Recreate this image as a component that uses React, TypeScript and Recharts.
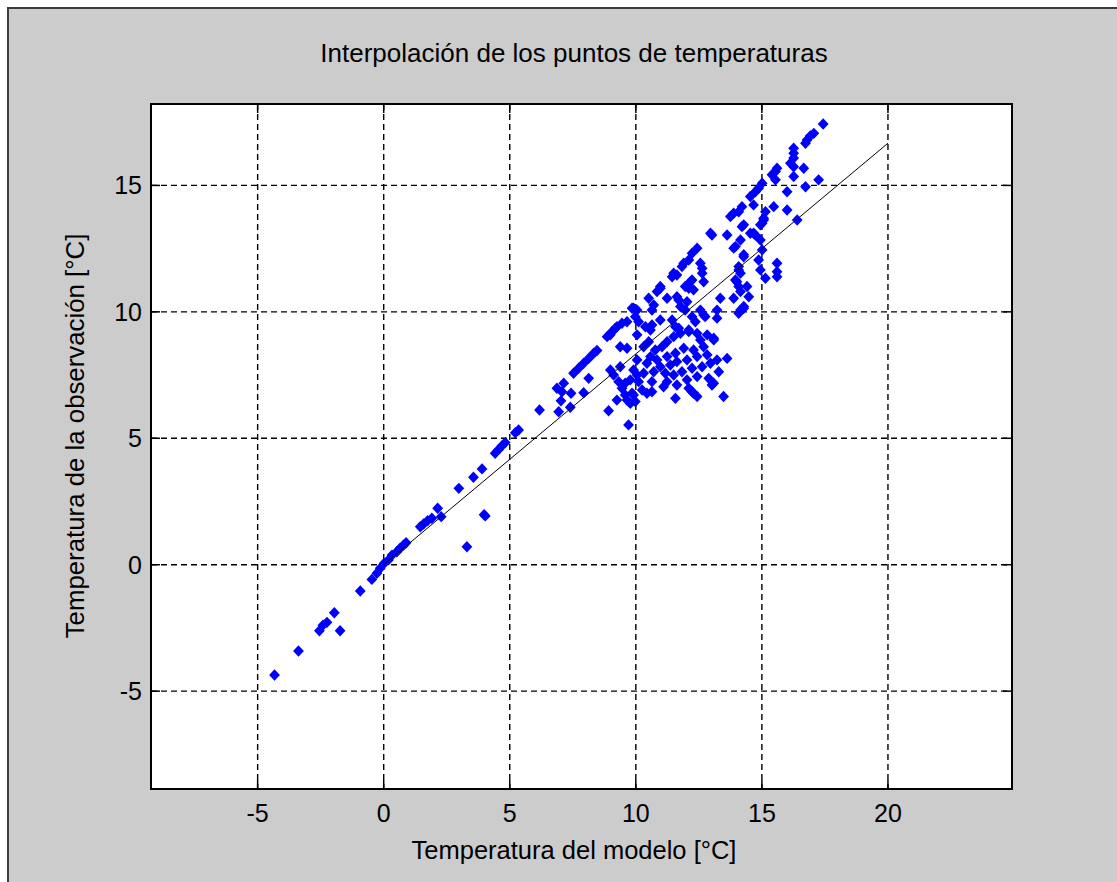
import { ScatterChart, Scatter, XAxis, YAxis, CartesianGrid, ReferenceArea } from "recharts";

const FONT = '"Liberation Sans", Arial, sans-serif';
const INK = "#000";
const POINT_BLUE = "#0000ff";
const FIG_BG = "#cccccc";
const TICK_LEN = 9;

// axis settings
const xTicks = [-5, 0, 5, 10, 15, 20];
const yTicks = [-5, 0, 5, 10, 15];
const xDomain: [number, number] = [-9.23, 24.92];
const yDomain: [number, number] = [-8.87, 18.22];

// [modelo, observación] in °C
const coldPoints = [
  [-4.33, -4.36], [-3.38, -3.41], [-2.55, -2.61], [-2.41, -2.39], [-2.25, -2.28],
  [-1.96, -1.9], [-1.73, -2.61], [-0.93, -1.04], [-0.47, -0.58], [-0.27, -0.34],
  [-0.14, -0.14], [0.02, 0.06], [0.19, 0.19], [0.33, 0.38], [0.52, 0.51],
  [0.65, 0.65], [0.79, 0.78], [0.89, 0.87], [1.45, 1.5], [1.58, 1.61],
  [1.74, 1.74], [1.91, 1.84], [2.14, 2.23], [2.28, 1.9], [2.98, 3.02],
  [3.3, 0.71], [3.56, 3.46], [3.9, 3.79], [4.03, 1.93], [3.98, 1.98],
  [4.42, 4.41], [4.56, 4.56], [4.69, 4.7], [4.82, 4.83], [5.22, 5.22], [5.35, 5.33],
];

const upperBand = [
  [6.18, 6.12], [6.87, 6.98], [7.14, 7.18], [7.53, 7.57], [7.73, 7.77], [7.93, 7.97],
  [8.13, 8.16], [8.33, 8.36], [8.46, 8.47], [8.86, 9.02], [8.99, 9.09], [9.06, 9.22],
  [9.19, 9.35], [9.25, 9.41], [9.45, 9.55], [9.65, 9.61], [9.85, 10.14], [9.91, 10.14],
  [9.98, 9.81], [10.05, 10.07], [10.51, 10.54], [10.64, 10.07], [10.97, 10.93], [10.97, 11.0],
  [10.84, 10.8], [11.24, 10.54], [11.5, 11.53], [11.63, 11.46], [11.44, 11.39], [11.83, 11.79],
  [11.9, 11.92], [12.1, 12.05], [12.23, 12.32], [12.43, 12.52], [12.96, 13.11], [13.02, 13.04],
  [13.62, 13.04], [13.75, 13.77], [13.88, 13.9], [14.08, 13.96], [14.21, 14.16], [14.28, 13.44],
  [14.21, 13.37], [14.54, 14.56], [14.67, 14.23], [14.74, 14.75], [14.87, 14.89], [15.01, 15.09],
  [15.4, 15.42], [15.54, 15.55], [15.6, 15.68], [15.54, 15.22], [15.47, 14.16], [16.0, 14.75],
  [16.0, 14.03], [16.13, 15.88], [16.26, 15.74], [16.26, 16.08], [16.26, 16.27], [16.26, 16.47],
  [16.26, 15.35], [16.66, 15.68], [16.73, 16.67], [16.79, 16.8], [16.92, 16.96], [17.06, 17.06],
  [17.43, 17.43], [17.25, 15.22], [16.73, 14.95], [16.4, 13.63], [15.14, 13.96], [15.07, 13.7],
  [15.01, 13.5], [15.07, 13.63],
];

const warmPoints = [
  [13.88, 12.52], [14.15, 12.84], [14.28, 12.18], [14.54, 13.11], [14.67, 13.11], [14.74, 13.04],
  [14.94, 13.44], [14.94, 12.84], [15.01, 12.45], [14.87, 12.05], [14.94, 11.66], [15.6, 11.92],
  [15.6, 11.59], [15.6, 11.39], [15.14, 11.33], [14.08, 11.66], [13.95, 11.26], [14.08, 11.0],
  [13.88, 10.54], [14.15, 10.8], [14.41, 11.0], [14.48, 10.6], [14.28, 10.14], [14.08, 9.94],
  [14.15, 10.07], [13.95, 12.58], [14.28, 12.26], [14.08, 11.79], [14.15, 11.53], [14.01, 11.19],
  [14.28, 10.21],
];

const mainCluster = [
  [6.94, 6.05], [7.03, 6.48], [7.07, 6.84], [7.4, 6.23], [7.43, 6.78], [8.13, 7.37],
  [7.93, 6.8], [8.92, 6.09], [9.38, 8.62], [9.65, 8.56], [8.99, 7.7], [9.12, 7.5],
  [9.38, 7.83], [9.32, 7.24], [9.45, 6.98], [9.25, 6.51], [9.65, 6.51], [9.58, 6.71],
  [9.78, 7.31], [9.91, 7.7], [9.71, 5.53], [9.78, 6.38], [10.05, 8.1], [9.58, 7.18],
  [9.85, 6.78], [10.44, 6.78], [12.29, 6.78], [13.09, 7.18],
  [11.7, 10.47], [12.03, 10.4], [11.96, 10.07], [12.23, 9.81], [12.56, 10.07], [12.69, 9.88],
  [12.36, 9.61], [11.44, 9.68], [11.57, 9.41], [10.97, 9.68], [10.58, 9.28], [10.64, 9.48],
  [11.7, 9.35], [12.1, 9.28], [12.83, 9.09], [13.09, 8.96], [13.35, 10.54], [13.22, 10.07],
  [13.22, 9.75], [12.56, 11.92], [12.63, 11.53], [12.69, 11.19], [12.23, 11.26], [12.1, 10.93],
  [12.29, 10.87], [12.63, 11.72], [12.16, 11.19], [11.96, 11.0], [11.63, 10.6], [11.77, 10.21],
  [10.71, 10.27], [12.75, 9.81],
  [10.11, 9.61], [10.38, 9.41], [10.05, 9.09], [10.51, 8.82], [10.31, 8.62], [10.77, 8.49],
  [11.04, 8.62], [11.24, 8.82], [11.5, 9.02], [11.77, 9.15], [12.1, 9.22], [12.43, 9.15],
  [12.56, 8.89], [13.09, 8.89], [12.69, 8.62], [12.29, 8.49], [11.9, 8.56], [11.57, 8.36],
  [11.24, 8.23], [10.84, 8.1], [10.58, 8.23], [10.44, 7.97], [10.97, 7.83], [11.37, 7.9],
  [11.63, 8.03], [12.03, 8.1], [12.43, 8.23], [12.83, 8.3], [13.22, 8.1], [13.62, 8.16],
  [12.96, 7.97], [12.63, 7.83], [12.23, 7.77], [11.83, 7.63], [11.5, 7.5], [11.17, 7.57],
  [10.71, 7.63], [10.31, 7.57], [10.05, 7.5], [10.11, 7.24], [10.64, 7.24], [11.24, 7.24],
  [12.03, 7.31], [12.43, 7.44], [12.89, 7.37], [13.29, 7.63], [13.02, 7.11], [12.1, 6.98],
  [11.63, 7.11], [11.1, 7.04], [10.64, 6.84], [10.25, 6.91], [9.91, 6.71], [9.98, 6.45],
  [12.23, 6.84], [12.43, 6.65], [11.57, 6.58], [13.48, 6.65],
];

// ajuste lineal
const fitModel = [0, 20];
const fitObs = [0, 16.67];

const points = [...coldPoints, ...upperBand, ...mainCluster, ...warmPoints].map(([x, y]) => ({ x, y }));
const fitLine = fitModel.map((x, i) => ({ x, y: fitObs[i] }));

function Diamond(props: any) {
  const { cx, cy } = props;
  if (cx == null || cy == null) return <g />;
  return (
    <polygon
      points={`${cx},${cy - 5.7} ${cx + 5.4},${cy} ${cx},${cy + 5.7} ${cx - 5.4},${cy}`}
      fill={POINT_BLUE}
    />
  );
}

const NoDot = () => <g />;

const bottomTick = ({ x, y, payload }: any) => (
  <g>
    <line x1={x} y1={y} x2={x} y2={y - TICK_LEN} stroke={INK} strokeWidth={1.5} />
    <text x={x} y={y + 33} textAnchor="middle" fontSize={25} fontFamily={FONT} fill={INK}>
      {payload.value}
    </text>
  </g>
);

const topTick = ({ x, y }: any) => (
  <line x1={x} y1={y} x2={x} y2={y + TICK_LEN} stroke={INK} strokeWidth={1.5} />
);

const leftTick = ({ x, y, payload }: any) => (
  <g>
    <line x1={x} y1={y} x2={x + TICK_LEN} y2={y} stroke={INK} strokeWidth={1.5} />
    <text x={x - 9} y={y + 9} textAnchor="end" fontSize={25} fontFamily={FONT} fill={INK}>
      {payload.value}
    </text>
  </g>
);

const rightTick = ({ x, y }: any) => (
  <line x1={x} y1={y} x2={x - TICK_LEN} y2={y} stroke={INK} strokeWidth={1.5} />
);

export default function App() {
  return (
    <div style={{ position: "absolute", left: 0, top: 0, width: 1117, height: 882, background: "#fff", overflow: "hidden" }}>
      <div
        style={{
          position: "absolute",
          left: 7,
          top: 7,
          width: 1117,
          height: 882,
          background: FIG_BG,
          borderLeft: "2px solid #3c3c3c",
          borderTop: "2px solid #3c3c3c",
        }}
      />
      <div style={{ position: "absolute", left: 0, top: 0 }}>
        <ScatterChart width={1117} height={882} margin={{ top: 103, right: 104, bottom: 92, left: 150 }}>
          <CartesianGrid
            stroke={INK}
            strokeWidth={1.4}
            strokeDasharray="6 4"
            fill="#fff"
            fillOpacity={1}
            verticalValues={xTicks}
            horizontalValues={yTicks}
          />
          <XAxis
            type="number"
            dataKey="x"
            domain={xDomain}
            ticks={xTicks}
            interval={0}
            allowDataOverflow
            height={1}
            axisLine={false}
            tickLine={false}
            tickSize={0}
            tickMargin={0}
            tick={bottomTick}
          />
          <XAxis
            xAxisId="top"
            orientation="top"
            type="number"
            dataKey="x"
            domain={xDomain}
            ticks={xTicks}
            interval={0}
            allowDataOverflow
            height={1}
            axisLine={false}
            tickLine={false}
            tickSize={0}
            tickMargin={0}
            tick={topTick}
          />
          <YAxis
            type="number"
            dataKey="y"
            domain={yDomain}
            ticks={yTicks}
            interval={0}
            allowDataOverflow
            width={1}
            axisLine={false}
            tickLine={false}
            tickSize={0}
            tickMargin={0}
            tick={leftTick}
          />
          <YAxis
            yAxisId="right"
            orientation="right"
            type="number"
            dataKey="y"
            domain={yDomain}
            ticks={yTicks}
            interval={0}
            allowDataOverflow
            width={1}
            axisLine={false}
            tickLine={false}
            tickSize={0}
            tickMargin={0}
            tick={rightTick}
          />
          <Scatter data={points} shape={<Diamond />} isAnimationActive={false} />
          <Scatter
            data={fitLine}
            line={{ stroke: INK, strokeWidth: 1 }}
            shape={<NoDot />}
            isAnimationActive={false}
          />
          <ReferenceArea
            x1={xDomain[0]}
            x2={xDomain[1]}
            y1={yDomain[0]}
            y2={yDomain[1]}
            fill="none"
            stroke={INK}
            strokeWidth={2}
            ifOverflow="visible"
          />
        </ScatterChart>
      </div>
      <svg width={1117} height={882} style={{ position: "absolute", left: 0, top: 0, pointerEvents: "none" }}>
        <text x={574} y={62} textAnchor="middle" fontSize={26} fontFamily={FONT} fill={INK}>
          Interpolación de los puntos de temperaturas
        </text>
        <text x={574} y={859} textAnchor="middle" fontSize={25.5} fontFamily={FONT} fill={INK}>
          Temperatura del modelo [°C]
        </text>
        <text
          x={84}
          y={436}
          textAnchor="middle"
          fontSize={25.8}
          fontFamily={FONT}
          fill={INK}
          transform="rotate(-90 84 436)"
        >
          Temperatura de la observación [°C]
        </text>
      </svg>
    </div>
  );
}
